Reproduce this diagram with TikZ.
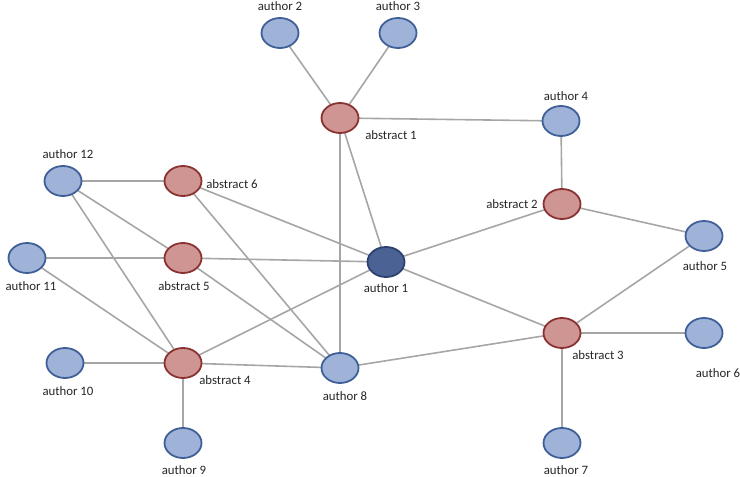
\documentclass[tikz,border=0pt]{standalone}
\usepackage{fontspec}
\setmainfont{Carlito}
\usetikzlibrary{shapes.geometric,backgrounds}
\definecolor{afill}{HTML}{9FB3D9}
\definecolor{adraw}{HTML}{3F5F98}
\definecolor{bfill}{HTML}{CE9592}
\definecolor{bdraw}{HTML}{8A3232}
\definecolor{cfill}{HTML}{4A6394}
\definecolor{cdraw}{HTML}{2C4170}
\definecolor{edge}{HTML}{A6A6A6}
\begin{document}
\begin{tikzpicture}[x=1pt,y=-1pt,
  every node/.style={inner sep=0pt},
  auth/.style={ellipse,draw=adraw,fill=afill,line width=1.8pt,minimum width=37pt,minimum height=30pt},
  abst/.style={ellipse,draw=bdraw,fill=bfill,line width=1.8pt,minimum width=37pt,minimum height=30pt},
  main/.style={ellipse,draw=cdraw,fill=cfill,line width=1.8pt,minimum width=37pt,minimum height=30pt},
  lbl/.style={font=\fontsize{12.8}{15}\selectfont,text=black!85},
  link/.style={draw=edge,line width=1.6pt}]
\useasboundingbox (0,0) rectangle (740,477);
% nodes
\node[auth] (au2) at (280,33) {};
\node[auth] (au3) at (398,33) {};
\node[abst] (ab1) at (340,118) {};
\node[auth] (au4) at (561,121) {};
\node[abst] (ab2) at (562,204) {};
\node[auth] (au5) at (704,236) {};
\node[abst] (ab3) at (562,333) {};
\node[auth] (au6) at (704,333) {};
\node[auth] (au7) at (562,443) {};
\node[main] (au1) at (386,262) {};
\node[auth] (au8) at (340,368) {};
\node[abst] (ab4) at (183,363) {};
\node[auth] (au9) at (183,443) {};
\node[auth] (au10) at (65,363) {};
\node[auth] (au11) at (27,258) {};
\node[abst] (ab5) at (183,258) {};
\node[auth] (au12) at (63,181) {};
\node[abst] (ab6) at (183,181) {};
% labels
\node[lbl] (l2) at (280,6) {author 2};
\node[lbl] (l3) at (398,6) {author 3};
\node[lbl] (lb1) at (391,135) {abstract 1};
\node[lbl] (l4) at (566,96) {author 4};
\node[lbl] (lb2) at (512,204) {abstract 2};
\node[lbl] (l5) at (705,266) {author 5};
\node[lbl] (lb3) at (598,355) {abstract 3};
\node[lbl] (l6) at (718,373) {author 6};
\node[lbl] (l7) at (566,470) {author 7};
\node[lbl] (l1) at (386,288) {author 1};
\node[lbl] (l8) at (345,396) {author 8};
\node[lbl] (lb4) at (225,380) {abstract 4};
\node[lbl] (l9) at (184,470) {author 9};
\node[lbl] (l10) at (68,391) {author 10};
\node[lbl] (l11) at (31,286) {author 11};
\node[lbl] (lb5) at (184,286) {abstract 5};
\node[lbl] (l12) at (68,154) {author 12};
\node[lbl] (lb6) at (232,184) {abstract 6};
% edges
\begin{pgfonlayer}{background}
\draw[link] (au2.center) -- (ab1.center);
\draw[link] (au3.center) -- (ab1.center);
\draw[link] (ab1.center) -- (au4.center);
\draw[link] (ab1.center) -- (au1.center);
\draw[link] (ab1.center) -- (au8.center);
\draw[link] (au4.center) -- (ab2.center);
\draw[link] (ab2.center) -- (au5.center);
\draw[link] (ab2.center) -- (au1.center);
\draw[link] (au5.center) -- (ab3.center);
\draw[link] (ab3.center) -- (au6.center);
\draw[link] (ab3.center) -- (au7.center);
\draw[link] (ab3.center) -- (au1.center);
\draw[link] (ab3.center) -- (au8.center);
\draw[link] (ab6.center) -- (au12.center);
\draw[link] (ab6.center) -- (au1.center);
\draw[link] (ab6.center) -- (au8.center);
\draw[link] (au12.center) -- (ab5.center);
\draw[link] (au12.center) -- (ab4.center);
\draw[link] (au11.center) -- (ab5.center);
\draw[link] (au11.center) -- (ab4.center);
\draw[link] (ab5.center) -- (au1.center);
\draw[link] (ab5.center) -- (au8.center);
\draw[link] (au10.center) -- (ab4.center);
\draw[link] (ab4.center) -- (au9.center);
\draw[link] (ab4.center) -- (au8.center);
\draw[link] (ab4.center) -- (au1.center);
\end{pgfonlayer}
\end{tikzpicture}
\end{document}
